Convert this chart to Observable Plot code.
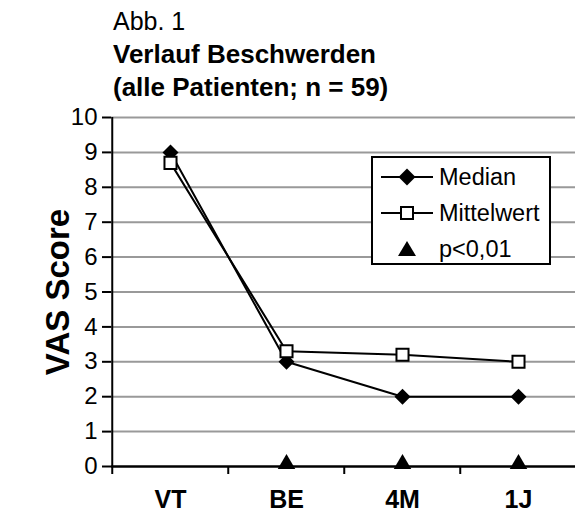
<!DOCTYPE html>
<html><head><meta charset="utf-8">
<script src="https://cdn.jsdelivr.net/npm/d3@7"></script>
<script src="https://cdn.jsdelivr.net/npm/@observablehq/plot@0.6"></script>
<style>
body{margin:0;background:#fff;font-family:"Liberation Sans",Arial,sans-serif;color:#000;}
#wrap{position:relative;width:575px;height:515px;overflow:hidden;}
#title{position:absolute;left:113px;top:5px;line-height:33px;}
#title .t1{font-size:25px;}
#title .t2{font-size:26px;font-weight:bold;}
#chart{position:absolute;left:0;top:100px;}
#legend{position:absolute;left:371px;top:156px;width:176px;height:105px;border:2px solid #000;background:#fff;}
#legend .row{position:absolute;left:0;height:36px;display:flex;align-items:center;font-size:23.5px;}
#legend svg{display:block;margin-left:6px;margin-right:4px;}
</style></head><body>
<div id="wrap">
<div id="title"><div class="t1">Abb. 1</div><div class="t2">Verlauf Beschwerden</div><div class="t2">(alle Patienten; n = 59)</div></div>
<div id="chart"></div>
<div id="legend"></div>
</div>
<script>
const categories = ["VT", "BE", "4M", "1J"];
const median = [9, 3, 2, 2];
const mittelwert = [8.7, 3.3, 3.2, 3.0];
const significant = ["BE", "4M", "1J"];
const yTicks = [0, 1, 2, 3, 4, 5, 6, 7, 8, 9, 10];
const legendLabels = ["Median", "Mittelwert", "p<0,01"];

const medianData = categories.map((c, i) => ({cat: c, v: median[i]}));
const meanData = categories.map((c, i) => ({cat: c, v: mittelwert[i]}));
const sigData = significant.map(c => ({cat: c, v: 0}));

const bw = (577 - 111) / categories.length;

const chart = Plot.plot({
  width: 575,
  height: 415,
  marginTop: 17,
  marginBottom: 49,
  marginLeft: 111,
  marginRight: 0,
  style: {fontFamily: '"Liberation Sans", Arial, sans-serif', color: "#000", background: "transparent"},
  x: {type: "band", domain: categories, range: [111, 577], padding: 0},
  y: {domain: [0, 10], ticks: yTicks},
  marks: [
    Plot.gridY(yTicks.filter(d => d > 0), {stroke: "#999", strokeOpacity: 1, strokeWidth: 2}),
    Plot.axisY({ticks: yTicks, tickSize: 9, tickPadding: 5, fontSize: 24, label: "VAS Score", labelAnchor: "center", labelOffset: 66, labelArrow: "none", strokeWidth: 2}),
    Plot.axisX({tickSize: 8, text: null, dx: -bw / 2, strokeWidth: 2, label: null}),
    Plot.axisX({tickSize: 0, tickPadding: 24, fontSize: 25, fontWeight: "bold", label: null}),
    Plot.ruleX([0], {x: () => categories[0], dx: -bw / 2, stroke: "#000", strokeWidth: 2}),
    Plot.ruleY([0], {stroke: "#000", strokeWidth: 2.5}),
    Plot.line(medianData, {x: "cat", y: "v", stroke: "#000", strokeWidth: 2}),
    Plot.line(meanData, {x: "cat", y: "v", stroke: "#000", strokeWidth: 2}),
    Plot.dot(medianData, {x: "cat", y: "v", symbol: "square", r: 6.4, rotate: 45, fill: "#000", stroke: "none"}),
    Plot.dot(meanData, {x: "cat", y: "v", symbol: "square", r: 6.8, fill: "#fff", stroke: "#000", strokeWidth: 2}),
    Plot.dot(sigData, {x: "cat", y: "v", symbol: "triangle", r: 6.5, fill: "#000", stroke: "none", dy: -2.5})
  ]
});
chart.querySelectorAll("text").forEach(t => {
  if (t.textContent === "VAS Score") { t.setAttribute("font-weight", "bold"); t.setAttribute("font-size", "33"); }
});
document.getElementById("chart").appendChild(chart);

// Legend
const legend = document.getElementById("legend");
const symbols = [
  '<svg width="56" height="20"><line x1="2" y1="10" x2="54" y2="10" stroke="#000" stroke-width="2"/><rect x="22" y="4" width="12" height="12" transform="rotate(45 28 10)" fill="#000"/></svg>',
  '<svg width="56" height="20"><line x1="2" y1="10" x2="54" y2="10" stroke="#000" stroke-width="2"/><rect x="22" y="4" width="12" height="12" fill="#fff" stroke="#000" stroke-width="2"/></svg>',
  '<svg width="56" height="20"><path d="M28,2 L37,17 L19,17 Z" fill="#000"/></svg>'
];
legendLabels.forEach((lab, i) => {
  const row = document.createElement("div");
  row.className = "row";
  row.style.top = (1 + i * 36) + "px";
  row.innerHTML = symbols[i] + '<span>' + lab + '</span>';
  legend.appendChild(row);
});
</script>
</body></html>
